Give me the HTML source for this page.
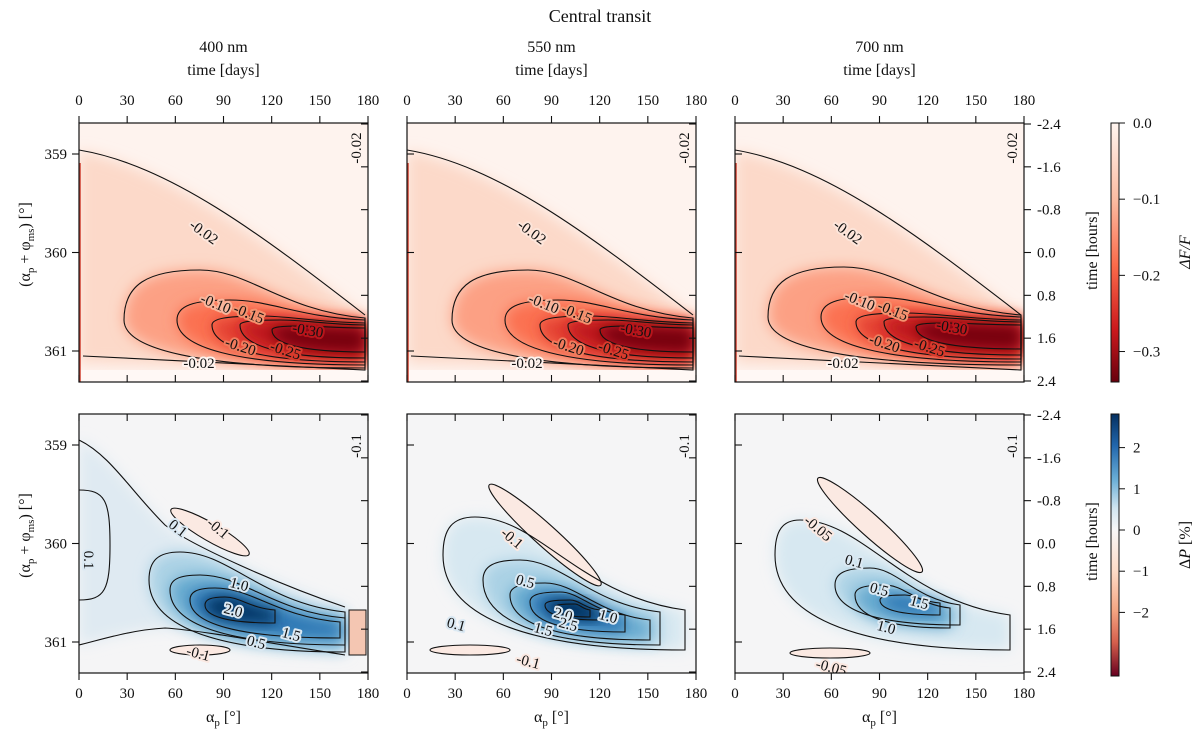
<!DOCTYPE html>
<html><head><meta charset="utf-8">
<style>
html,body{margin:0;padding:0;background:#fff;}
svg{display:block;font-family:"Liberation Serif","DejaVu Serif",serif;}
.lbl{font-size:15px;fill:#111;paint-order:stroke;stroke-width:4px;stroke-linejoin:round;}
</style></head>
<body>
<svg id="fig" width="1200" height="739" viewBox="0 0 1200 739" xmlns="http://www.w3.org/2000/svg">
<defs>
<filter id="blur" x="-30%" y="-30%" width="160%" height="160%"><feGaussianBlur stdDeviation="7"/></filter>
<linearGradient id="redbar" x1="0" y1="0" x2="0" y2="1">
<stop offset="0" stop-color="#fff5f0"/><stop offset="0.3" stop-color="#fcbba1"/><stop offset="0.55" stop-color="#fb6a4a"/><stop offset="0.8" stop-color="#cb181d"/><stop offset="1" stop-color="#67000d"/></linearGradient>
<linearGradient id="bluebar" x1="0" y1="0" x2="0" y2="1">
<stop offset="0" stop-color="#053061"/><stop offset="0.12" stop-color="#2166ac"/><stop offset="0.25" stop-color="#6aaed6"/><stop offset="0.36" stop-color="#d1e5f0"/><stop offset="0.44" stop-color="#f7f7f7"/><stop offset="0.6" stop-color="#fddbc7"/><stop offset="0.75" stop-color="#f4a582"/><stop offset="0.87" stop-color="#d6604d"/><stop offset="1" stop-color="#67001f"/></linearGradient>
</defs>
</svg>
<script>
const panelX=[79,407,735];
const panelW=289;
const rowY=[123,414];
const panelH=259;
const wavelengths=["400 nm","550 nm","700 nm"];
const dayTicks=[0,30,60,90,120,150,180];
const angleTicks=[359,360,361];
const hourTicks=["-2.4","-1.6","-0.8","0.0","0.8","1.6","2.4"];
const fluxLevels=[-0.10,-0.15,-0.20,-0.25,-0.30];
const fluxMin=-0.34;
const polLevels=[[0.5,1.0,1.5,2.0],[0.1,0.5,1.0,1.5,2.0,2.5],[0.1,0.5,1.0,1.5]];
const fluxBarTicks=[0.0,-0.1,-0.2,-0.3];
const polBarTicks=[2,1,0,-1,-2];

const svg=document.getElementById('fig');
const NS='http://www.w3.org/2000/svg';
function mk(tag,attrs,parent){const e=document.createElementNS(NS,tag);for(const k in attrs)e.setAttribute(k,attrs[k]);(parent||svg).appendChild(e);return e;}
function txt(s,x,y,size,anchor,parent,rot){const t=mk('text',{x:x,y:y,'font-size':size,'text-anchor':anchor||'middle',fill:'#111'},parent);if(rot)t.setAttribute('transform','rotate('+rot+' '+x+' '+y+')');t.textContent=s;return t;}
function xs(p,a){return panelX[p]+a*panelW/180;}
function ys(r,v){return rowY[r]+31+(v-359)*98.5;}
function redC(v){const t=Math.min(1,v/0.34);const st=[[0,[255,245,240]],[0.3,[252,187,161]],[0.55,[251,106,74]],[0.8,[203,24,29]],[1,[103,0,13]]];return interp(st,t);}
function blueC(v){const t=Math.min(1,v/2.85);const st=[[0,[247,247,247]],[0.2,[209,229,240]],[0.45,[146,197,222]],[0.7,[67,147,195]],[0.88,[33,102,172]],[1,[5,48,97]]];return interp(st,t);}
function interp(st,t){for(let i=1;i<st.length;i++){if(t<=st[i][0]){const f=(t-st[i-1][0])/(st[i][0]-st[i-1][0]);const a=st[i-1][1],b=st[i][1];return 'rgb('+a.map((c,j)=>Math.round(c+(b[j]-c)*f)).join(',')+')';}}return 'rgb('+st[st.length-1][1].join(',')+')';}
function shape(s){const [xL,yL,xT,yT,xR,yRt,yRb]=s;
return 'M'+xR+','+yRt+' C'+(xR-(xR-xT)*0.5)+','+(yRt-0.15*(yRt-yT))+' '+(xT+(xR-xT)*0.3)+','+yT+' '+xT+','+yT+
' C'+(xL+(xT-xL)*0.3)+','+yT+' '+xL+','+(yT+(yL-yT)*0.3)+' '+xL+','+yL+
' C'+xL+','+(yL+(yRb-yL)*0.6)+' '+(xL+(xR-xL)*0.3)+','+yRb+' '+xR+','+yRb+' Z';}

const topShapes=[[45,197,121,147,289,195,245],[98,197,151,177,289,197,242],[133,202,181,193,289,200,239],[161,202,201,197,289,202,235],[193,207,221,203,289,205,229]];
const topShift=[[0,0],[0,0],[-12,-3]];
const botShapes=[
 [[70,166,101,138,266,198,238],[91,176,121,161,266,204,231],[111,186,136,174,261,208,224],[126,191,146,183,196,196,209]],
 [[36,141,68,103,278,196,236],[76,166,113,146,253,198,231],[103,181,138,169,243,206,226],[123,188,153,178,218,201,218],[138,191,163,186,193,196,206],[148,193,168,190,183,196,203]],
 [[40,141,65,106,275,201,236],[100,171,135,154,225,191,211],[120,181,150,171,215,194,214],[145,186,170,181,205,189,201]]];
const botCenters=[[[210,532],[200,650]],[[545,535],[470,650]],[[870,525],[830,653]]];

for(let r=0;r<2;r++){for(let p=0;p<3;p++){
 const x0=panelX[p],y0=rowY[r];
 const g=mk('g',{});
 
 
 const cid='clip'+r+p;
 const cp=mk('clipPath',{id:cid},g);mk('rect',{x:x0,y:y0,width:panelW,height:panelH},cp);
 const inner=mk('g',{'clip-path':'url(#'+cid+')'},g);
 if(r===0){
  mk('rect',{x:x0,y:y0,width:panelW,height:panelH,fill:'#fef3ee'},inner);
  const base=mk('path',{d:'M'+x0+','+(y0+28)+' C'+(x0+90)+','+(y0+45)+' '+(x0+180)+','+(y0+115)+' '+(x0+289)+','+(y0+195)+' L'+(x0+289)+','+(y0+248)+' L'+x0+','+(y0+240)+' Z',fill:'#fcd9c9',filter:'url(#blur)'},inner);
  
  
  const sh=topShift[p];
  topShapes.forEach((s,i)=>{const a=[x0+s[0]+sh[0],y0+s[1]+sh[1],x0+s[2]+sh[0],y0+s[3]+sh[1],x0+s[4]-3,y0+s[5]+sh[1],y0+s[6]+sh[1]];
   const f=mk('path',{d:shape(a),fill:redC(-fluxLevels[i]+0.03),filter:'url(#blur)'},inner);
   
   });
  mk('rect',{x:x0,y:y0+247,width:panelW,height:14,fill:'#fff8f5'},inner);
  mk('path',{d:'M'+x0+','+(y0+27)+' C'+(x0+90)+','+(y0+42)+' '+(x0+180)+','+(y0+110)+' '+(x0+286)+','+(y0+192),fill:'none',stroke:'#111','stroke-width':1.1},inner);
  mk('path',{d:'M'+(x0+4)+','+(y0+233)+' L'+(x0+286)+','+(y0+247)+' L'+(x0+286)+','+(y0+195),fill:'none',stroke:'#111','stroke-width':1.1},inner);
  topShapes.forEach((s,i)=>{const a=[x0+s[0]+sh[0],y0+s[1]+sh[1],x0+s[2]+sh[0],y0+s[3]+sh[1],x0+s[4]-3,y0+s[5]+sh[1],y0+s[6]+sh[1]];
   const c=mk('path',{d:shape(a),fill:'none',stroke:'#111','stroke-width':1.1},inner);
   
   });
  mk('line',{x1:x0+1,y1:y0+40,x2:x0+1,y2:y0+259,stroke:'#d04030','stroke-width':1.5},inner);
  const lt=[['-0.02',x0+122,y0+113,36,'#fde5da'],['-0.10',x0+135,y0+185,22,'#f8b59c'],['-0.15',x0+168,y0+195,22,'#f4926f'],['-0.20',x0+160,y0+228,18,'#f07a5c'],['-0.25',x0+205,y0+232,18,'#d73a2c'],['-0.30',x0+228,y0+212,10,'#b8151b'],['-0.02',x0+120,y0+245,0,'#fef3ee']];
  lt.forEach(l=>{const t=txt(l[0],l[1]+sh[0],l[2]+(l[0]==='-0.02'?0:sh[1]),14,'middle',inner,l[3]);t.setAttribute('class','lbl');t.setAttribute('stroke',l[4]);});
  const t2=txt('-0.02',x0+282,y0+25,13,'middle',inner,-90);t2.setAttribute('class','lbl');t2.setAttribute('stroke','#fef3ee');
 } else {
  mk('rect',{x:x0,y:y0,width:panelW,height:panelH,fill:'#f5f5f6'},inner);
  const L=polLevels[p];
  const bs=botShapes[p];
  if(p===0){
   const band='M'+x0+','+(y0+26)+' C'+(x0+31)+','+(y0+41)+' '+(x0+51)+','+(y0+76)+' '+(x0+86)+','+(y0+111)+' C'+(x0+111)+','+(y0+131)+' '+(x0+201)+','+(y0+171)+' '+(x0+266)+','+(y0+193)+' L'+(x0+266)+','+(y0+241)+' C'+(x0+201)+','+(y0+231)+' '+(x0+121)+','+(y0+216)+' '+(x0+86)+','+(y0+214)+' C'+(x0+51)+','+(y0+216)+' '+(x0+21)+','+(y0+226)+' '+x0+','+(y0+231);
   const bf=mk('path',{d:band+' Z',fill:'#dfeaf2',filter:'url(#blur)'},inner);
   
   
  }
  bs.forEach((s,i)=>{const a=[x0+s[0],y0+s[1],x0+s[2],y0+s[3],x0+s[4],y0+s[5],y0+s[6]];
   const f=mk('path',{d:shape(a),fill:blueC(L[i]*1.3+0.35),filter:'url(#blur)'},inner);
   
   });
  const bc=botCenters[p];
  const ne=mk('ellipse',{cx:bc[0][0],cy:bc[0][1],rx:p===0?45:(p===1?75:70),ry:p===0?9:11,transform:'rotate('+(p===0?30:42)+' '+bc[0][0]+' '+bc[0][1]+')',fill:'#fbe9e2',stroke:'#111','stroke-width':1.1},inner);
  
  
  const ne2=mk('ellipse',{cx:bc[1][0],cy:bc[1][1],rx:p===0?30:40,ry:5,fill:'#fbe9e2',stroke:'#111','stroke-width':1.1},inner);
  
  
  bs.forEach((s,i)=>{const a=[x0+s[0],y0+s[1],x0+s[2],y0+s[3],x0+s[4],y0+s[5],y0+s[6]];
   const c=mk('path',{d:shape(a),fill:'none',stroke:'#111','stroke-width':1.1},inner);
   
   });
  if(p===0){
   mk('path',{d:'M'+x0+','+(y0+26)+' C'+(x0+31)+','+(y0+41)+' '+(x0+51)+','+(y0+76)+' '+(x0+86)+','+(y0+111)+' C'+(x0+111)+','+(y0+131)+' '+(x0+201)+','+(y0+171)+' '+(x0+266)+','+(y0+193)+' M'+(x0+266)+','+(y0+241)+' C'+(x0+201)+','+(y0+231)+' '+(x0+121)+','+(y0+216)+' '+(x0+86)+','+(y0+214)+' C'+(x0+51)+','+(y0+216)+' '+(x0+21)+','+(y0+226)+' '+x0+','+(y0+231),fill:'none',stroke:'#111','stroke-width':1.1},inner);
   mk('path',{d:'M'+x0+','+(y0+76)+' C'+(x0+26)+','+(y0+76)+' '+(x0+31)+','+(y0+86)+' '+(x0+31)+','+(y0+131)+' C'+(x0+31)+','+(y0+176)+' '+(x0+26)+','+(y0+186)+' '+x0+','+(y0+186),fill:'none',stroke:'#111','stroke-width':1.1},inner);
   mk('rect',{x:x0+270,y:y0+196,width:17,height:45,fill:'#f4c6b2',stroke:'#111','stroke-width':1},inner);}
  const labs=[[['0.1',x0+96,y0+118],['1.0',x0+159,y0+175],['2.0',x0+153,y0+201],['1.5',x0+211,y0+225],['0.5',x0+176,y0+233],['-0.1',x0+136,y0+118],['-0.1',x0+118,y0+244],['0.1',x0+5,y0+146]],
   [['0.1',x0+48,y0+215],['0.5',x0+117,y0+172],['-0.1',x0+102,y0+128],['2.0',x0+155,y0+205],['2.5',x0+160,y0+215],['1.5',x0+135,y0+220],['1.0',x0+200,y0+207],['-0.1',x0+120,y0+252]],
   [['-0.05',x0+80,y0+118],['0.1',x0+118,y0+152],['0.5',x0+143,y0+180],['1.5',x0+183,y0+193],['1.0',x0+150,y0+218],['-0.05',x0+95,y0+258]]][p];
  labs.forEach(l=>{const t=txt(l[0],l[1],l[2],14,'middle',inner,(l[0]==='-0.1'||l[0]==='-0.05')&&l[2]-y0<150?40:(p===0&&l[1]-x0<10?90:(p===0&&l[0]==='0.1'?38:15)));t.setAttribute('class','lbl');t.setAttribute('stroke',l[0].startsWith('-')?'#fbe9e2':'#dbe9f3');});
  const t3=txt('-0.1',x0+282,y0+32,13,'middle',inner,-90);t3.setAttribute('class','lbl');t3.setAttribute('stroke','#f5f5f6');
 }
 mk('rect',{x:x0,y:y0,width:panelW,height:panelH,fill:'none',stroke:'#111','stroke-width':1.2},g);
 dayTicks.forEach(d=>{const x=xs(p,d);
  mk('line',{x1:x,y1:y0,x2:x,y2:y0+(r===0?-7:7),stroke:'#111','stroke-width':1.1},g);
  mk('line',{x1:x,y1:y0+panelH,x2:x,y2:y0+panelH+(r===1?7:-7),stroke:'#111','stroke-width':1.1},g);
  if(r===0){const t=txt(String(d),x,y0-18,15,'middle',g);}
  else{const t=txt(String(d),x,y0+panelH+25,15,'middle',g);}
 });
 angleTicks.forEach(v=>{const y=ys(r,v);mk('line',{x1:x0,y1:y,x2:x0+(p===0?-7:7),y2:y,stroke:'#111','stroke-width':1.1},g);
  if(p===0){const t=txt(String(v),x0-12,y+5,15,'end',g);}});
 hourTicks.forEach((h,i)=>{const y=y0+1+i*(panelH-2)/6;mk('line',{x1:x0+panelW,y1:y,x2:x0+panelW+(p===2?7:-7),y2:y,stroke:'#111','stroke-width':1.1},g);
  if(p===2){const t=txt(h,x0+panelW+13,y+5,15,'start',g);}});
 if(r===0){const t=txt(wavelengths[p],x0+panelW/2,52,16,'middle',g);
  const t2=txt('time [days]',x0+panelW/2,75,16,'middle',g);}
 else{const t=txt('',x0+panelW/2,722,16,'middle',g);t.innerHTML='α<tspan font-size="11" dy="4">p</tspan><tspan dy="-4"> [°]</tspan>';}
}
 const yl=txt('',30,rowY[r]+panelH/2-8,16,'middle',svg,-90);yl.innerHTML='(α<tspan font-size="11" dy="4">p</tspan><tspan dy="-4"> + φ</tspan><tspan font-size="11" dy="4">ms</tspan><tspan dy="-4">) [°]</tspan>';
 
 const hl=txt('time [hours]',1097,rowY[r]+panelH/2-2,16,'middle',svg,-90);
}
const figTitle=txt('Central transit',600,22,18,'middle');

const cb1=mk('rect',{x:1111,y:123,width:8,height:259,fill:'url(#redbar)',stroke:'#111','stroke-width':1});

fluxBarTicks.forEach(v=>{const y=123+(v/fluxMin)*259;mk('line',{x1:1119,y1:y,x2:1125,y2:y,stroke:'#111'});
 const t=txt(v===0?'0.0':'−'+Math.abs(v).toFixed(1),1133,y+5,15,'start');});
const fl=txt('ΔF/F',1190,252,16,'middle',svg,-90);fl.setAttribute('font-style','italic');
const cb2=mk('rect',{x:1111,y:414,width:8,height:262,fill:'url(#bluebar)',stroke:'#111','stroke-width':1});

polBarTicks.forEach(v=>{const y=530-v*41.2;mk('line',{x1:1119,y1:y,x2:1125,y2:y,stroke:'#111'});
 const t=txt(v<0?'−'+Math.abs(v):String(v),1133,y+5,15,'start');});
const pl=txt('',1190,545,16,'middle',svg,-90);pl.innerHTML='Δ<tspan font-style="italic">P</tspan> [%]';
</script>
</body></html>
